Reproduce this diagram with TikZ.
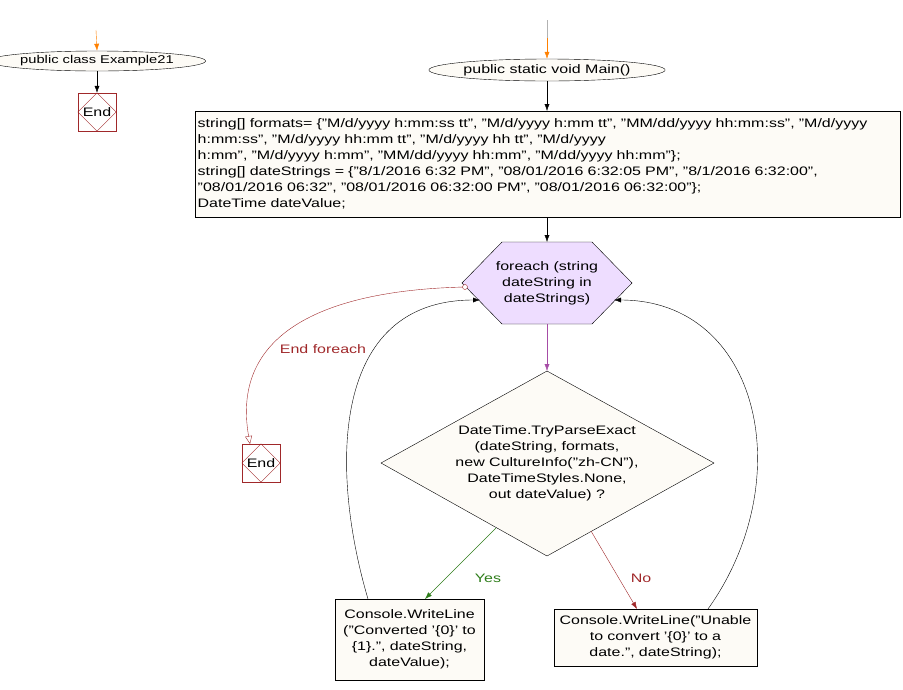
\documentclass[tikz,border=0pt]{standalone}
\usepackage{fontspec}
\setmainfont{Liberation Sans}[FakeStretch=1.3]
\usetikzlibrary{shapes.geometric,arrows.meta}
\definecolor{cream}{HTML}{FDFBF6}
\definecolor{lav}{HTML}{EEDDFF}
\definecolor{dred}{HTML}{A0282A}
\definecolor{dgreen}{HTML}{2E7D1A}
\begin{document}
\begin{tikzpicture}[x=1pt,y=-1pt,font=\fontsize{12.3}{16}\selectfont,
  every node/.style={inner sep=0pt},
  term/.style={ellipse,draw,fill=cream},
  blk/.style={draw,fill=cream,align=left,inner sep=2pt},
  arr/.style={-{Latex[length=7pt,width=5pt]}},
  endb/.style={draw=dred,minimum width=38pt,minimum height=38pt,fill=white}]
\useasboundingbox (0,0) rectangle (903,689);
% left
\coordinate (o1) at (96,30);
\node[term,minimum width=186pt,minimum height=20pt,font=\fontsize{11.3}{14}\selectfont] (cls) at (97,61) {public class Example21};
\draw[arr,orange] (o1) -- (cls.north);
\node[endb] (e1) at (97,112) {};
\draw[dred] (e1.north) -- (e1.east) -- (e1.south) -- (e1.west) -- cycle;
\node at (e1) {End};
\draw[arr] (cls.south) -- (e1.north);
% main
\coordinate (o2) at (547,20);
\node[term,minimum width=194pt,minimum height=22pt] (main) at (547,70) {public static void Main()};
\draw[gray!60] (o2) -- (547,38);
\draw[arr,orange] (547,38) -- (main.north);
\node[blk,anchor=north west,minimum width=705pt,minimum height=106pt,text width=700pt] (decl) at (195,111) {string[] formats= \{"M/d/yyyy h:mm:ss tt", "M/d/yyyy h:mm tt", "MM/dd/yyyy hh:mm:ss", "M/d/yyyy\\
h:mm:ss", "M/d/yyyy hh:mm tt", "M/d/yyyy hh tt", "M/d/yyyy\\
h:mm", "M/d/yyyy h:mm", "MM/dd/yyyy hh:mm", "M/dd/yyyy hh:mm"\};\\
string[] dateStrings = \{"8/1/2016 6:32 PM", "08/01/2016 6:32:05 PM", "8/1/2016 6:32:00",\\
"08/01/2016 06:32", "08/01/2016 06:32:00 PM", "08/01/2016 06:32:00"\};\\
DateTime dateValue;};
\draw[arr] (main.south) -- (decl.north -| main);
\path[draw,fill=lav] (462,283) coordinate (hl) -- (502,242) coordinate (ht) -- (592,242) -- (632,283) coordinate (hr) -- (592,324) -- (502,324) -- cycle;
\node[align=center] (hex) at (547,283) {foreach (string\\dateString in\\dateStrings)};
\coordinate (htop) at (547,242);
\coordinate (hbot) at (547,324);
\draw[arr] (decl.south -| htop) -- (htop);
\path[draw,fill=cream] (547,371) coordinate (dt) -- (714,463) -- (547,556) -- (381,463) -- cycle;
\node[align=center] (cond) at (547,463) {DateTime.TryParseExact\\(dateString, formats,\\new CultureInfo("zh-CN"),\\DateTimeStyles.None,\\out dateValue) ?};
\draw[arr,violet!70] (hbot) -- (dt);
\node[blk,align=center,minimum width=149pt,minimum height=81pt,text width=145pt] (b1) at (409.5,639.5) {Console.WriteLine\\("Converted '\{0\}' to\\\{1\}.", dateString,\\dateValue);};
\node[blk,align=center,minimum width=203pt,minimum height=57pt,text width=199pt] (b2) at (655.5,637.5) {Console.WriteLine("Unable\\to convert '\{0\}' to a\\date.", dateString);};
\coordinate (y0) at (496,528);
\coordinate (n0) at (591,531);
\draw[arr,dgreen] (y0) -- (425,599);
\node[text=dgreen] (yes) at (488,578) {Yes};
\draw[arr,dred] (n0) -- (637,609);
\node[text=dred] (no) at (641,578) {No};
\draw[arr] (368,599) .. controls (330,470) and (330,300) .. (480,300);
\draw[arr] (708,609) .. controls (800,480) and (760,300) .. (614,300);
\node[endb] (e2) at (261,463) {};
\draw[dred] (e2.north) -- (e2.east) -- (e2.south) -- (e2.west) -- cycle;
\node at (e2) {End};
\draw[dred,-{Triangle[open,length=8pt,width=7pt]}] (465,287) .. controls (330,290) and (230,330) .. (250,444);
\draw[dred,fill=white] (465,287) circle (2.5pt);
\node[text=dred] at (323,349) {End foreach};
\end{tikzpicture}
\end{document}
